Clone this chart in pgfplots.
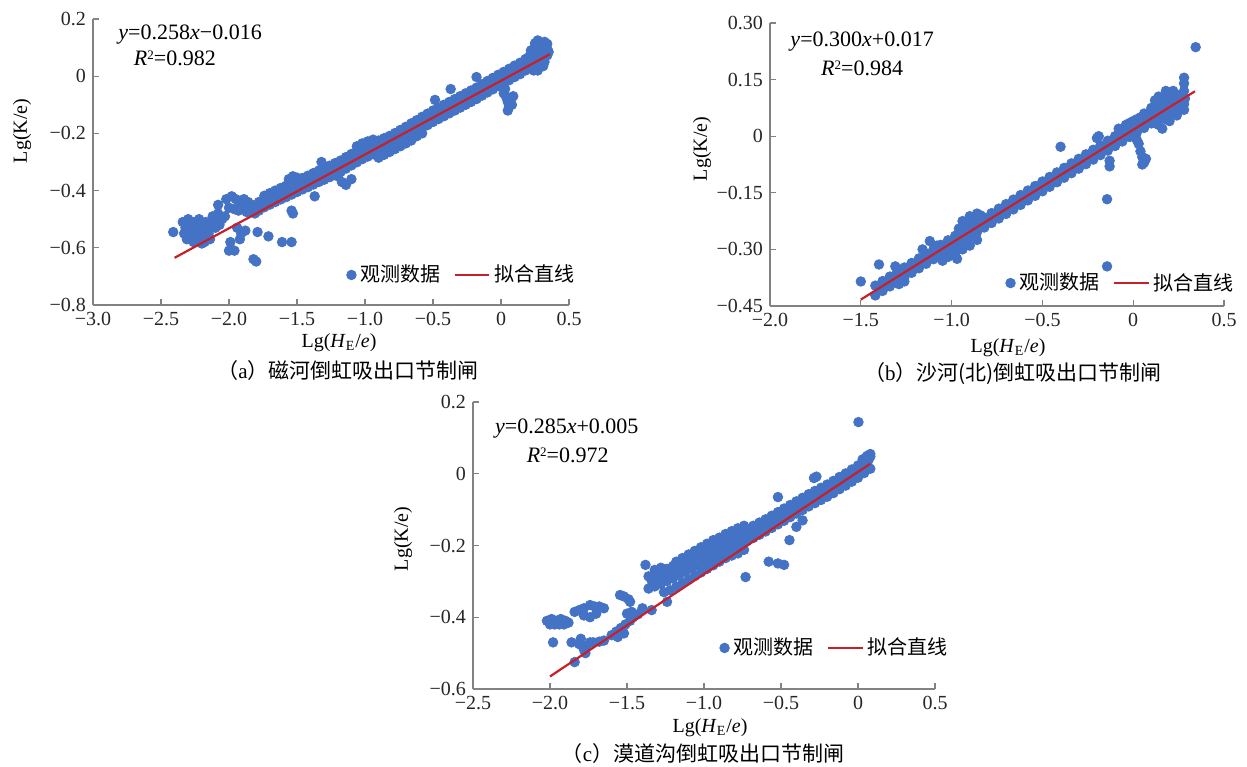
\documentclass[border=0pt]{standalone}
\usepackage{fontspec}
\setmainfont{Liberation Serif}
\newfontfamily\cjk{Noto Sans CJK SC}
\usepackage{pgfplots}
\pgfplotsset{compat=1.18}
\definecolor{dotblue}{RGB}{68,114,196}
\definecolor{fitred}{RGB}{200,32,40}
\definecolor{axgray}{RGB}{130,130,130}

\pgfplotsset{
  panel/.style={
    scale only axis, axis x line=bottom, axis y line=left,
    axis line style={-, axgray, line width=0.6pt},
    x axis line style={-}, y axis line style={-},
    tick style={axgray, line width=0.6pt}, major tick length=3pt, tick align=inside,
    tick label style={font=\fontsize{10}{12}\selectfont, text=black!85},
    legend style={draw=none, fill=none, inner sep=0pt,
      font={\cjk\fontsize{10}{12}\selectfont}, legend columns=2,
      /tikz/every even column/.append style={column sep=5pt}},
    legend cell align=left,
    clip=false, clip marker paths=true,
  },
  dots/.style={only marks, mark=*, mark size=2.4pt, mark options={draw=none, fill=dotblue}, color=dotblue},
  fit/.style={no marks, color=fitred, line width=1.1pt},
}
\newcommand{\eqfont}{\fontsize{11}{13}\selectfont}
\newcommand{\capfont}{\fontsize{10.5}{12}\selectfont}
\newcommand{\sq}{\raisebox{0.55ex}{\fontsize{6.5}{7}\selectfont 2}}

\begin{document}
\begin{tikzpicture}
\path[use as bounding box] (0,0) rectangle (623.5pt,383pt);

% ---------- (a) ----------
\begin{axis}[panel, name=a, at={(46.5pt,230.5pt)}, anchor=south west,
  width=238pt, height=143pt,
  xmin=-3, xmax=0.5, ymin=-0.8, ymax=0.2,
  xtick={-3,-2.5,-2,-1.5,-1,-0.5,0,0.5},
  xticklabels={−3.0,−2.5,−2.0,−1.5,−1.0,−0.5,0,0.5},
  ytick={-0.8,-0.6,-0.4,-0.2,0,0.2},
  yticklabels={−0.8,−0.6,−0.4,−0.2,0,0.2},
  legend style={at={(rel axis cs:1.021,0.105)}, anchor=east}]
\addplot[dots] coordinates {
(-1.74,-0.418) (-1.70,-0.409) (-1.66,-0.400) (-1.62,-0.391) (-1.58,-0.383) (-1.54,-0.374) (-1.50,-0.365) (-1.46,-0.356) (-1.42,-0.348) (-1.38,-0.339) (-1.34,-0.330) (-1.30,-0.322) (-1.26,-0.313) (-1.22,-0.304) (-1.18,-0.295) (-1.14,-0.283) (-1.10,-0.272) (-1.06,-0.261) (-1.02,-0.250) (-0.98,-0.241) (-0.94,-0.233) (-0.90,-0.225) (-0.86,-0.217) (-0.82,-0.209) (-0.78,-0.199) (-0.74,-0.188) (-0.70,-0.177) (-0.66,-0.165) (-0.62,-0.154) (-0.58,-0.142) (-0.54,-0.131) (-0.50,-0.120) (-0.46,-0.110) (-0.42,-0.100) (-0.38,-0.090) (-0.34,-0.080) (-0.30,-0.070) (-0.26,-0.060) (-0.22,-0.050) (-0.18,-0.040) (-0.14,-0.028) (-0.10,-0.017) (-0.06,-0.006) (-0.02,0.005) (0.02,0.015) (0.06,0.026) (0.10,0.037) (0.14,0.047) (0.18,0.060) (0.22,0.073) (0.26,0.087) (0.30,0.100) (0.34,0.113)
(-1.72,-0.433) (-1.68,-0.424) (-1.64,-0.415) (-1.60,-0.406) (-1.56,-0.398) (-1.52,-0.389) (-1.48,-0.380) (-1.44,-0.371) (-1.40,-0.363) (-1.36,-0.354) (-1.32,-0.345) (-1.28,-0.337) (-1.24,-0.328) (-1.20,-0.319) (-1.16,-0.310) (-1.12,-0.298) (-1.08,-0.287) (-1.04,-0.276) (-1.00,-0.265) (-0.96,-0.256) (-0.92,-0.248) (-0.88,-0.240) (-0.84,-0.232) (-0.80,-0.224) (-0.76,-0.214) (-0.72,-0.203) (-0.68,-0.192) (-0.64,-0.180) (-0.60,-0.169) (-0.56,-0.157) (-0.52,-0.146) (-0.48,-0.135) (-0.44,-0.125) (-0.40,-0.115) (-0.36,-0.105) (-0.32,-0.095) (-0.28,-0.085) (-0.24,-0.075) (-0.20,-0.065) (-0.16,-0.055) (-0.12,-0.043) (-0.08,-0.032) (-0.04,-0.021) (0.00,-0.010) (0.04,0.000) (0.08,0.011) (0.12,0.022) (0.16,0.032) (0.20,0.045) (0.24,0.058) (0.28,0.072) (0.32,0.085)
(-1.74,-0.458) (-1.70,-0.449) (-1.66,-0.440) (-1.62,-0.431) (-1.58,-0.423) (-1.54,-0.414) (-1.50,-0.405) (-1.46,-0.396) (-1.42,-0.388) (-1.38,-0.379) (-1.34,-0.370) (-1.30,-0.362) (-1.26,-0.353) (-1.22,-0.344) (-1.18,-0.335) (-1.14,-0.323) (-1.10,-0.312) (-1.06,-0.301) (-1.02,-0.290) (-0.98,-0.281) (-0.94,-0.273) (-0.90,-0.265) (-0.86,-0.257) (-0.82,-0.249) (-0.78,-0.239) (-0.74,-0.228) (-0.70,-0.217) (-0.66,-0.205) (-0.62,-0.194) (-0.58,-0.182) (-0.54,-0.171) (-0.50,-0.160) (-0.46,-0.150) (-0.42,-0.140) (-0.38,-0.130) (-0.34,-0.120) (-0.30,-0.110) (-0.26,-0.100) (-0.22,-0.090) (-0.18,-0.080) (-0.14,-0.068) (-0.10,-0.057) (-0.06,-0.046) (-0.02,-0.035) (0.02,-0.025) (0.06,-0.014) (0.10,-0.003) (0.14,0.007) (0.18,0.020) (0.22,0.033) (0.26,0.047) (0.30,0.060) (0.34,0.073)
(-1.06,-0.245) (-1.02,-0.235) (-0.98,-0.228) (-0.94,-0.222)
(-0.90,-0.285) (-0.86,-0.275) (-0.82,-0.265) (-0.78,-0.255) (-0.74,-0.245) (-0.70,-0.235) (-0.66,-0.225) (-0.62,-0.210) (-0.58,-0.200)
(0.22,0.090) (0.26,0.105) (0.27,0.125) (0.30,0.115) (0.32,0.120) (0.34,0.095) (0.24,0.020) (0.28,0.035) (0.32,0.050)
(0.20,0.065) (0.22,0.080) (0.24,0.095) (0.26,0.060) (0.28,0.090) (0.30,0.085) (0.31,0.100) (0.32,0.070) (0.33,0.105) (0.25,0.115) (0.29,0.110) (0.35,0.085) (0.31,0.035) (0.27,0.020)
(0.02,-0.060) (0.03,-0.045) (0.04,-0.075) (0.05,-0.090) (0.06,-0.105) (0.05,-0.120) (0.08,-0.100) (0.07,-0.085) (0.09,-0.070)
(-0.485,-0.083) (-0.37,-0.045) (-0.18,-0.003) (-1.32,-0.300) (-1.37,-0.420)
(-1.20,-0.350) (-1.17,-0.370) (-1.14,-0.380) (-1.10,-0.360)
(-1.56,-0.360) (-1.53,-0.350) (-1.50,-0.355)
(-2.41,-0.545)
(-2.34,-0.51) (-2.32,-0.53) (-2.33,-0.55) (-2.30,-0.50) (-2.29,-0.52) (-2.28,-0.54) (-2.27,-0.56) (-2.26,-0.51) (-2.25,-0.53) (-2.24,-0.55) (-2.23,-0.57) (-2.22,-0.50) (-2.21,-0.52) (-2.20,-0.54) (-2.19,-0.56) (-2.18,-0.58) (-2.17,-0.51) (-2.16,-0.53) (-2.15,-0.55) (-2.14,-0.57) (-2.31,-0.57) (-2.26,-0.58) (-2.20,-0.585) (-2.13,-0.52)
(-2.12,-0.49) (-2.10,-0.51) (-2.08,-0.48) (-2.07,-0.52) (-2.05,-0.50) (-2.03,-0.49) (-2.10,-0.53)
(-2.08,-0.45) (-2.02,-0.43) (-1.98,-0.42) (-1.95,-0.43) (-1.92,-0.44) (-1.89,-0.43) (-1.86,-0.44) (-1.83,-0.45) (-1.80,-0.46) (-2.00,-0.46) (-1.96,-0.465) (-1.93,-0.47) (-1.90,-0.46) (-1.87,-0.475) (-1.84,-0.47) (-1.81,-0.48) (-1.78,-0.47)
(-1.94,-0.53) (-1.91,-0.55) (-1.88,-0.54) (-1.92,-0.57) (-1.99,-0.58) (-2.00,-0.61) (-1.96,-0.61) (-1.79,-0.545) (-1.82,-0.64) (-1.80,-0.648) (-1.71,-0.56) (-1.61,-0.58) (-1.54,-0.58) (-1.54,-0.47) (-1.53,-0.48) (-1.76,-0.45) (-1.78,-0.44)
};
\addplot[fit] coordinates {(-2.4,-0.635) (0.36,0.077)};
\legend{观测数据,拟合直线}
\node[font=\eqfont] at (rel axis cs:0.204,0.944) {\textit{y}=0.258\textit{x}−0.016};
\node[font=\eqfont] at (rel axis cs:0.172,0.864) {\textit{R}\sq=0.982};
\end{axis}

% ---------- (b) ----------
\begin{axis}[panel, name=b, at={(385pt,230pt)}, anchor=south west,
  width=227pt, height=141.5pt,
  xmin=-2, xmax=0.5, ymin=-0.45, ymax=0.30,
  xtick={-2,-1.5,-1,-0.5,0,0.5},
  xticklabels={−2.0,−1.5,−1.0,−0.5,0,0.5},
  ytick={-0.45,-0.30,-0.15,0,0.15,0.30},
  yticklabels={−0.45,−0.30,−0.15,0,0.15,0.30},
  legend style={at={(rel axis cs:1.031,0.081)}, anchor=east}]
\addplot[dots] coordinates {
(-1.42,-0.396) (-1.38,-0.384) (-1.34,-0.372) (-1.30,-0.360) (-1.26,-0.348) (-1.22,-0.336) (-1.18,-0.324) (-1.14,-0.312) (-1.10,-0.300) (-1.06,-0.288) (-1.02,-0.276) (-0.98,-0.264) (-0.94,-0.252) (-0.90,-0.240) (-0.86,-0.228) (-0.82,-0.216) (-0.78,-0.204) (-0.74,-0.192) (-0.70,-0.180) (-0.66,-0.168) (-0.62,-0.156) (-0.58,-0.144) (-0.54,-0.132) (-0.50,-0.120) (-0.46,-0.108) (-0.42,-0.096) (-0.38,-0.084) (-0.34,-0.072) (-0.30,-0.060) (-0.26,-0.048) (-0.22,-0.036) (-0.18,-0.024) (-0.14,-0.012) (-0.10,0.000) (-0.06,0.012) (-0.02,0.024) (0.02,0.036) (0.06,0.048) (0.10,0.060) (0.14,0.072) (0.18,0.084) (0.22,0.096) (0.26,0.108)
(-1.40,-0.403) (-1.36,-0.391) (-1.32,-0.379) (-1.28,-0.367) (-1.24,-0.355) (-1.20,-0.343) (-1.16,-0.331) (-1.12,-0.319) (-1.08,-0.307) (-1.04,-0.295) (-1.00,-0.283) (-0.96,-0.271) (-0.92,-0.259) (-0.88,-0.247) (-0.84,-0.235) (-0.80,-0.223) (-0.76,-0.211) (-0.72,-0.199) (-0.68,-0.187) (-0.64,-0.175) (-0.60,-0.163) (-0.56,-0.151) (-0.52,-0.139) (-0.48,-0.127) (-0.44,-0.115) (-0.40,-0.103) (-0.36,-0.091) (-0.32,-0.079) (-0.28,-0.067) (-0.24,-0.055) (-0.20,-0.043) (-0.16,-0.031) (-0.12,-0.019) (-0.08,-0.007) (-0.04,0.005) (0.00,0.017) (0.04,0.029) (0.08,0.041) (0.12,0.053) (0.16,0.065) (0.20,0.077) (0.24,0.089)
(-1.42,-0.422) (-1.38,-0.410) (-1.34,-0.398) (-1.30,-0.386) (-1.26,-0.374) (-1.22,-0.362) (-1.18,-0.350) (-1.14,-0.338) (-1.10,-0.326) (-1.06,-0.314) (-1.02,-0.302) (-0.98,-0.290) (-0.94,-0.278) (-0.90,-0.266) (-0.86,-0.254) (-0.82,-0.242) (-0.78,-0.230) (-0.74,-0.218) (-0.70,-0.206) (-0.66,-0.194) (-0.62,-0.182) (-0.58,-0.170) (-0.54,-0.158) (-0.50,-0.146) (-0.46,-0.134) (-0.42,-0.122) (-0.38,-0.110) (-0.34,-0.098) (-0.30,-0.086) (-0.26,-0.074) (-0.22,-0.062) (-0.18,-0.050) (-0.14,-0.038) (-0.10,-0.026) (-0.06,-0.014) (-0.02,-0.002) (0.02,0.010) (0.06,0.022) (0.10,0.034) (0.14,0.046) (0.18,0.058) (0.22,0.070) (0.26,0.082)
(-0.96,-0.245) (-0.92,-0.232) (-0.88,-0.220) (-0.84,-0.210) (-0.94,-0.225) (-0.90,-0.212) (-0.86,-0.205) (-0.93,-0.240)
(-1.05,-0.330) (-1.02,-0.320) (-0.98,-0.310) (-0.97,-0.325) (-0.94,-0.300) (-0.90,-0.290) (-0.86,-0.275)
(-1.50,-0.385) (-1.40,-0.340) (-1.31,-0.345) (-1.12,-0.278) (-1.08,-0.290) (-1.16,-0.300) (-1.26,-0.385) (-1.29,-0.392)
(0.12,0.080) (0.14,0.090) (0.18,0.105) (0.20,0.115) (0.22,0.120) (0.24,0.110) (0.16,0.020) (0.20,0.040) (0.24,0.055) (0.26,0.070)
(0.08,0.060) (0.10,0.075) (0.12,0.095) (0.14,0.105) (0.16,0.100) (0.18,0.120) (0.20,0.100) (0.22,0.105) (0.16,0.085) (0.10,0.045) (0.12,0.035) (0.14,0.030) (0.18,0.045) (0.22,0.060) (0.24,0.075) (0.25,0.095) (0.06,0.060) (0.04,0.050) (0.02,0.045) (0.00,0.035) (-0.02,0.035) (-0.04,0.030) (0.00,0.040) (-0.08,0.020)
(0.28,0.155) (0.28,0.140) (0.28,0.120) (0.285,0.100) (0.28,0.085) (0.28,0.070)
(0.344,0.236) (-0.40,-0.028) (-0.144,-0.167) (-0.144,-0.345)
(0.02,-0.010) (0.03,-0.020) (0.04,-0.040) (0.05,-0.055) (0.06,-0.070) (0.05,-0.075) (0.07,-0.060)
(-0.13,-0.065) (-0.13,-0.080) (-0.20,-0.005) (-0.19,0.000)
};
\addplot[fit] coordinates {(-1.5,-0.433) (0.34,0.119)};
\legend{观测数据,拟合直线}
\node[font=\eqfont] at (rel axis cs:0.203,0.933) {\textit{y}=0.300\textit{x}+0.017};
\node[font=\eqfont] at (rel axis cs:0.203,0.841) {\textit{R}\sq=0.984};
\end{axis}

% ---------- (c) ----------
\begin{axis}[panel, name=c, at={(236.5pt,38.5pt)}, anchor=south west,
  width=231pt, height=143.5pt,
  xmin=-2.5, xmax=0.5, ymin=-0.6, ymax=0.2,
  xtick={-2.5,-2,-1.5,-1,-0.5,0,0.5},
  xticklabels={−2.5,−2.0,−1.5,−1.0,−0.5,0,0.5},
  ytick={-0.6,-0.4,-0.2,0,0.2},
  yticklabels={−0.6,−0.4,−0.2,0,0.2},
  legend style={at={(rel axis cs:1.037,0.143)}, anchor=east}]
\addplot[dots] coordinates {
(-1.36,-0.286) (-1.32,-0.280) (-1.28,-0.273) (-1.24,-0.265) (-1.20,-0.257) (-1.16,-0.248) (-1.12,-0.239) (-1.08,-0.230) (-1.04,-0.222) (-1.00,-0.214) (-0.96,-0.205) (-0.92,-0.196) (-0.88,-0.188) (-0.84,-0.180) (-0.80,-0.172) (-0.76,-0.163) (-0.72,-0.154) (-0.68,-0.145) (-0.64,-0.136) (-0.60,-0.127) (-0.56,-0.117) (-0.52,-0.107) (-0.48,-0.097) (-0.44,-0.087) (-0.40,-0.077) (-0.36,-0.067) (-0.32,-0.057) (-0.28,-0.048) (-0.24,-0.039) (-0.20,-0.030) (-0.16,-0.020) (-0.12,-0.009) (-0.08,0.001) (-0.04,0.012) (0.00,0.023) (0.04,0.036) (0.08,0.048)
(-1.34,-0.298) (-1.30,-0.292) (-1.26,-0.285) (-1.22,-0.277) (-1.18,-0.269) (-1.14,-0.260) (-1.10,-0.251) (-1.06,-0.242) (-1.02,-0.234) (-0.98,-0.226) (-0.94,-0.217) (-0.90,-0.208) (-0.86,-0.200) (-0.82,-0.192) (-0.78,-0.184) (-0.74,-0.175) (-0.70,-0.166) (-0.66,-0.157) (-0.62,-0.148) (-0.58,-0.139) (-0.54,-0.129) (-0.50,-0.119) (-0.46,-0.109) (-0.42,-0.099) (-0.38,-0.089) (-0.34,-0.079) (-0.30,-0.069) (-0.26,-0.060) (-0.22,-0.051) (-0.18,-0.042) (-0.14,-0.032) (-0.10,-0.021) (-0.06,-0.011) (-0.02,0.000) (0.02,0.013) (0.06,0.026)
(-1.36,-0.320) (-1.32,-0.314) (-1.28,-0.307) (-1.24,-0.299) (-1.20,-0.291) (-1.16,-0.282) (-1.12,-0.273) (-1.08,-0.264) (-1.04,-0.256) (-1.00,-0.248) (-0.96,-0.239) (-0.92,-0.230) (-0.88,-0.222) (-0.84,-0.214) (-0.80,-0.206) (-0.76,-0.197) (-0.72,-0.188) (-0.68,-0.179) (-0.64,-0.170) (-0.60,-0.161) (-0.56,-0.151) (-0.52,-0.141) (-0.48,-0.131) (-0.44,-0.121) (-0.40,-0.111) (-0.36,-0.101) (-0.32,-0.091) (-0.28,-0.082) (-0.24,-0.073) (-0.20,-0.064) (-0.16,-0.054) (-0.12,-0.043) (-0.08,-0.033) (-0.04,-0.022) (0.00,-0.011) (0.04,0.002) (0.08,0.014)
(-1.26,-0.330) (-1.22,-0.325) (-1.18,-0.315) (-1.14,-0.305) (-1.10,-0.295) (-1.06,-0.285) (-1.02,-0.275) (-0.98,-0.265) (-0.94,-0.255) (-0.90,-0.245) (-0.86,-0.235) (-0.82,-0.228) (-0.78,-0.222) (-0.74,-0.212)
(-1.32,-0.268) (-1.28,-0.262) (-1.18,-0.245) (-1.14,-0.235) (-1.10,-0.225) (-1.06,-0.215) (-1.02,-0.205) (-0.98,-0.195) (-0.94,-0.185) (-0.90,-0.178) (-0.86,-0.168) (-0.82,-0.160) (-0.78,-0.152) (-0.74,-0.145)
(-1.60,-0.450) (-1.57,-0.440) (-1.54,-0.430) (-1.51,-0.420) (-1.48,-0.410) (-1.46,-0.400) (-1.56,-0.455) (-1.52,-0.445) (-1.50,-0.390) (-1.47,-0.385) (-1.43,-0.392) (-1.40,-0.375) (-1.34,-0.380)
(-1.545,-0.338) (-1.52,-0.342) (-1.49,-0.350) (-1.48,-0.357) (-1.38,-0.254) (-1.24,-0.357)
(-2.02,-0.410) (-1.99,-0.405) (-1.96,-0.410) (-1.93,-0.405) (-1.90,-0.410) (-1.88,-0.415) (-2.00,-0.420) (-1.97,-0.420) (-1.94,-0.420) (-1.91,-0.420)
(-1.98,-0.470) (-1.86,-0.470) (-1.84,-0.525) (-1.81,-0.475) (-1.78,-0.490) (-1.76,-0.480) (-1.74,-0.470) (-1.72,-0.470) (-1.68,-0.468) (-1.65,-0.465) (-1.80,-0.460) (-1.77,-0.500)
(-1.84,-0.385) (-1.81,-0.380) (-1.78,-0.375) (-1.74,-0.366) (-1.71,-0.370) (-1.68,-0.370) (-1.65,-0.375) (-1.74,-0.400) (-1.70,-0.390) (-1.78,-0.395)
(0.003,0.144) (-0.286,-0.012) (-0.27,-0.008) (-0.52,-0.065) (-0.445,-0.185) (-0.58,-0.245) (-0.52,-0.250) (-0.48,-0.254) (-0.73,-0.288) (-0.40,-0.148) (-0.36,-0.130)
(0.06,0.050) (0.08,0.055) (0.07,0.040) (0.05,0.045) (0.03,0.040)
};
\addplot[fit] coordinates {(-2.0,-0.565) (0.08,0.028)};
\legend{观测数据,拟合直线}
\node[font=\eqfont] at (rel axis cs:0.203,0.906) {\textit{y}=0.285\textit{x}+0.005};
\node[font=\eqfont] at (rel axis cs:0.205,0.815) {\textit{R}\sq=0.972};
\end{axis}

% axis labels and captions
\node[rotate=90, font=\fontsize{10}{12}\selectfont] at (11pt,317.5pt) {Lg(K/e)};
\node[font=\fontsize{10}{12}\selectfont] at (169.5pt,211.5pt) {Lg(\textit{H}\textsubscript{E}/\textit{e})};
\node[font=\capfont] at (174pt,197.5pt) {{\cjk （}a{\cjk ）磁河倒虹吸出口节制闸}};

\node[rotate=90, font=\fontsize{10}{12}\selectfont] at (351pt,308.5pt) {Lg(K/e)};
\node[font=\fontsize{10}{12}\selectfont] at (504pt,209pt) {Lg(\textit{H}\textsubscript{E}/\textit{e})};
\node[font=\capfont] at (506.5pt,196pt) {{\cjk （}b{\cjk ）沙河(北)倒虹吸出口节制闸}};

\node[rotate=90, font=\fontsize{10}{12}\selectfont] at (201.5pt,113.5pt) {Lg(K/e)};
\node[font=\fontsize{10}{12}\selectfont] at (355pt,19pt) {Lg(\textit{H}\textsubscript{E}/\textit{e})};
\node[font=\capfont] at (351.5pt,6pt) {{\cjk （}c{\cjk ）漠道沟倒虹吸出口节制闸}};
\end{tikzpicture}
\end{document}
